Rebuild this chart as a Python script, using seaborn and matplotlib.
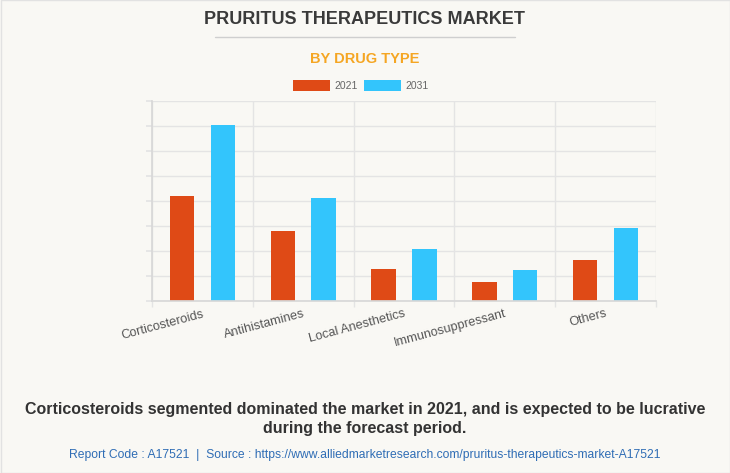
import matplotlib
matplotlib.use("Agg")
import matplotlib.pyplot as plt
import matplotlib.transforms as mtransforms
from matplotlib.patches import Rectangle
import seaborn as sns
import pandas as pd

categories = ["Corticosteroids", "Antihistamines", "Local Anesthetics", "Immunosuppressant", "Others"]
years = ["2021", "2031"]
values_2021 = [4.21, 2.80, 1.29, 0.76, 1.64]
values_2031 = [7.02, 4.14, 2.08, 1.24, 2.93]
colors = ["#DF4A16", "#33C5FC"]

df = pd.DataFrame({
    "category": categories * 2,
    "year": [years[0]] * len(categories) + [years[1]] * len(categories),
    "value": values_2021 + values_2031,
})

sns.set_theme(style="white")
plt.rcParams["font.family"] = ["Liberation Sans", "DejaVu Sans"]

bg = "#F9F8F4"
fig = plt.figure(figsize=(7.3, 4.73), dpi=100, facecolor=bg)
ax = fig.add_axes([152/730, 1-301/473, (656-152)/730, 200/473])
ax.set_facecolor(bg)

sns.barplot(data=df, x="category", y="value", hue="year", order=categories,
            hue_order=years, palette=colors, width=0.81, gap=0.4,
            ax=ax, legend=False, saturation=1, edgecolor="none")

ax.set_ylim(0, 8)
ax.set_xlim(-0.5, len(categories) - 0.5)
ax.set_yticks(range(0, 9))
ax.set_yticklabels([])
ax.set_xlabel("")
ax.set_ylabel("")
ax.set_xticks([i - 0.5 for i in range(len(categories) + 1)], minor=True)
ax.grid(True, axis="y", color="#E4E4E4", linewidth=1)
ax.grid(True, axis="x", which="minor", color="#E4E4E4", linewidth=1)
ax.tick_params(axis="y", length=4, color="#E4E4E4", left=True, pad=0)
ax.tick_params(axis="x", which="major", length=0)
ax.tick_params(axis="x", which="minor", length=4, color="#E4E4E4", bottom=True)
for s in ["top", "right"]:
    ax.spines[s].set_visible(False)
ax.spines["left"].set_color("#D8D8D8")
ax.spines["bottom"].set_color("#D8D8D8")
ax.set_axisbelow(True)

offset = mtransforms.ScaledTranslation(0, -2/100, fig.dpi_scale_trans)
ax.set_xticks(range(len(categories)))
ax.set_xticklabels(categories, rotation=15, ha="right", rotation_mode="anchor",
                   fontsize=9.2, color="#555555")
for lab in ax.get_xticklabels():
    lab.set_transform(lab.get_transform() + offset)

# titles
fig.text(0.5, 1-20/473, "PRURITUS THERAPEUTICS MARKET", ha="center", va="center",
         fontsize=13, fontweight="bold", color="#3A3A3A")
fig.add_artist(plt.Line2D([215/730, 515/730], [1-37/473, 1-37/473], color="#CFCFCF", linewidth=1))
fig.text(0.5, 1-59/473, "BY DRUG TYPE", ha="center", va="center",
         fontsize=10.5, fontweight="bold", color="#F5A623")

# legend
ly = 1-86/473
fig.add_artist(Rectangle((293/730, ly-5/473), 37/730, 11/473, transform=fig.transFigure,
                         facecolor=colors[0], edgecolor="none"))
fig.text(334/730, ly, years[0], ha="left", va="center", fontsize=7.5, color="#666666")
fig.add_artist(Rectangle((364/730, ly-5/473), 37/730, 11/473, transform=fig.transFigure,
                         facecolor=colors[1], edgecolor="none"))
fig.text(405/730, ly, years[1], ha="left", va="center", fontsize=7.5, color="#666666")

# footer
fig.text(0.5, 1-409/473, "Corticosteroids segmented dominated the market in 2021, and is expected to be lucrative",
         ha="center", va="center", fontsize=11.5, fontweight="bold", color="#333333")
fig.text(0.5, 1-428/473, "during the forecast period.",
         ha="center", va="center", fontsize=11.5, fontweight="bold", color="#333333")
fig.text(0.5, 1-455/473, "Report Code : A17521  |  Source : https://www.alliedmarketresearch.com/pruritus-therapeutics-market-A17521",
         ha="center", va="center", fontsize=8.7, color="#2F6DB5")

fig.add_artist(Rectangle((0.5/730, 0.5/473), 729/730, 472/473, transform=fig.transFigure,
                         facecolor="none", edgecolor="#E2E2E2", linewidth=1))

fig.savefig("out.png", dpi=100, facecolor=bg)
